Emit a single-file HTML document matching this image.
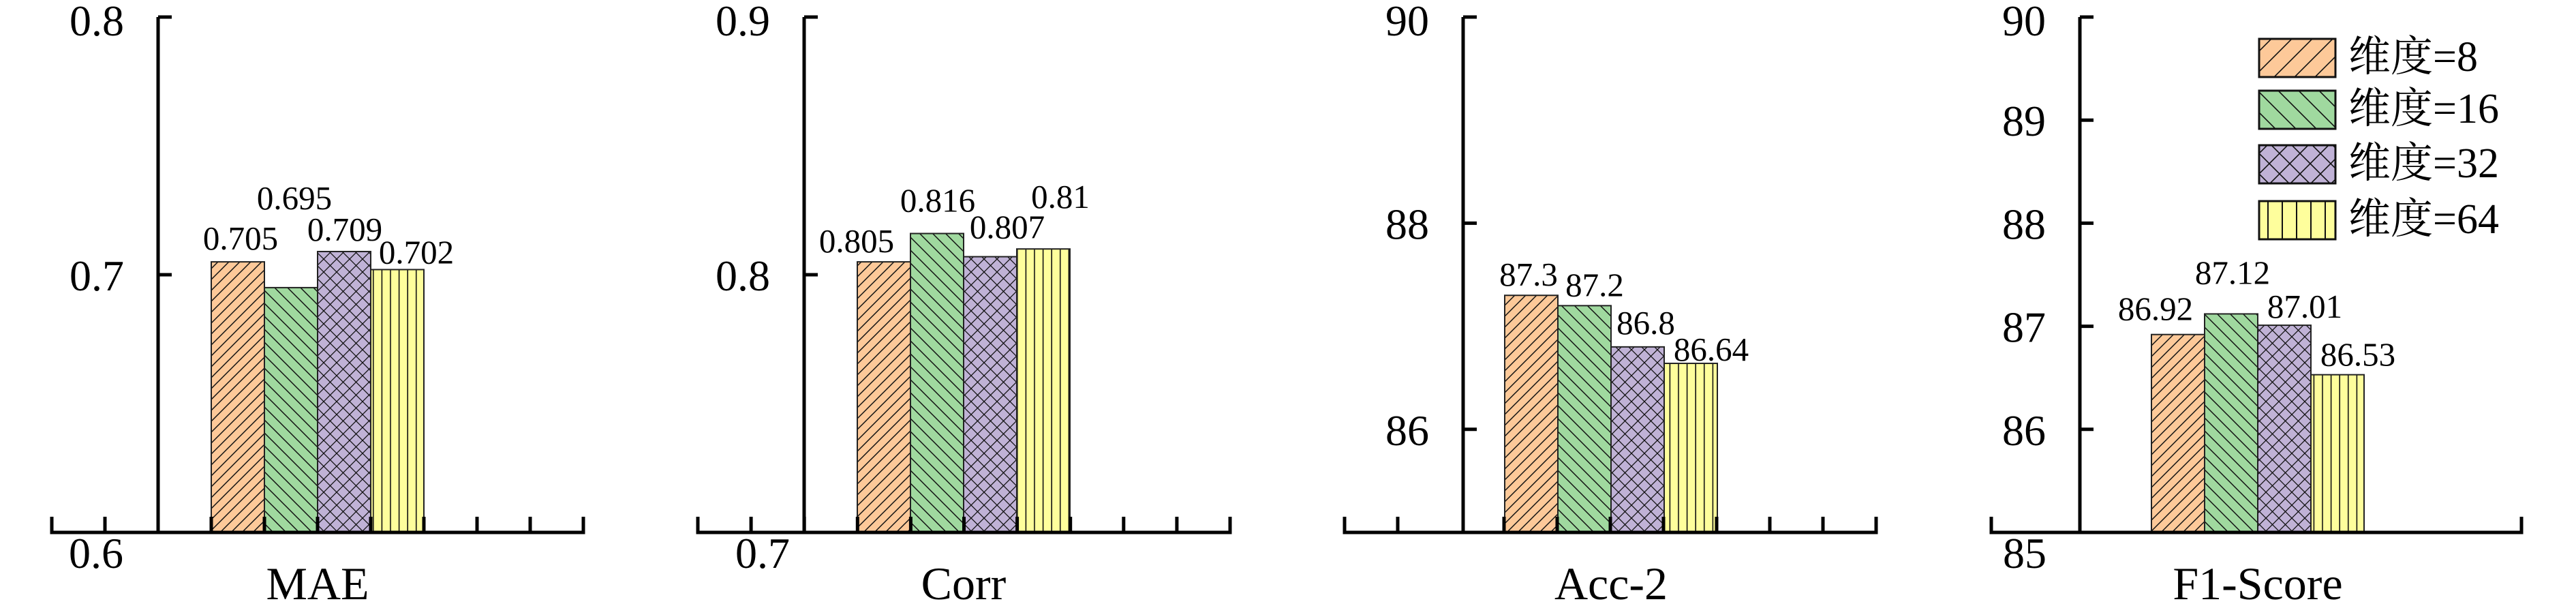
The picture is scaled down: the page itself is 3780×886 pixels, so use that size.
<!DOCTYPE html>
<html><head><meta charset="utf-8">
<style>
html,body{margin:0;padding:0;background:#fff;}
svg{display:block;}
text{font-family:"Liberation Serif","Noto Serif CJK SC",serif;fill:#000;}
</style></head>
<body>
<svg id="chart" width="3780" height="886" viewBox="0 0 3780 886" xmlns="http://www.w3.org/2000/svg">
<defs>
  <pattern id="p-s0" patternUnits="userSpaceOnUse" width="16" height="16"><rect width="16" height="16" fill="#fdc999"/><path d="M-4,4 L4,-4 M0,16 L16,0 M12,20 L20,12" stroke="#111" stroke-width="1.5"/></pattern>
  <pattern id="p-s1" patternUnits="userSpaceOnUse" width="19" height="19"><rect width="19" height="19" fill="#a0d99f"/><path d="M-5,14 L5,24 M0,0 L19,19 M14,-5 L24,5" stroke="#111" stroke-width="1.5"/></pattern>
  <pattern id="p-s2" patternUnits="userSpaceOnUse" width="19" height="19"><rect width="19" height="19" fill="#c0b2d6"/><path d="M0,0 L19,19 M19,0 L0,19" stroke="#111" stroke-width="1.3"/></pattern>
  <pattern id="p-s3" patternUnits="userSpaceOnUse" width="12.6" height="20"><rect width="12.6" height="20" fill="#fefe9c"/><path d="M6,0 L6,20" stroke="#111" stroke-width="1.6"/></pattern>
  <pattern id="l-s0" patternUnits="userSpaceOnUse" width="30" height="30"><rect width="30" height="30" fill="#fdc999"/><path d="M-8,8 L8,-8 M0,30 L30,0 M22,38 L38,22" stroke="#111" stroke-width="1.6"/></pattern>
  <pattern id="l-s1" patternUnits="userSpaceOnUse" width="30" height="30"><rect width="30" height="30" fill="#a0d99f"/><path d="M-8,22 L8,38 M0,0 L30,30 M22,-8 L38,8" stroke="#111" stroke-width="1.6"/></pattern>
  <pattern id="l-s2" patternUnits="userSpaceOnUse" width="30" height="30"><rect width="30" height="30" fill="#c0b2d6"/><path d="M0,0 L30,30 M30,0 L0,30" stroke="#111" stroke-width="1.6"/></pattern>
  <pattern id="l-s3" patternUnits="userSpaceOnUse" width="21" height="30"><rect width="21" height="30" fill="#fefe9c"/><path d="M10,0 L10,30" stroke="#111" stroke-width="2"/></pattern>
</defs>
</svg>
<script>
// ---- data ----
const metrics = ["MAE", "Corr", "Acc-2", "F1-Score"];
const seriesNames = ["维度=8", "维度=16", "维度=32", "维度=64"];
const maeValues = [0.705, 0.695, 0.709, 0.702];
const corrValues = [0.805, 0.816, 0.807, 0.81];
const acc2Values = [87.3, 87.2, 86.8, 86.64];
const f1Values = [86.92, 87.12, 87.01, 86.53];
const maeLabels = ["0.705", "0.695", "0.709", "0.702"];
const corrLabels = ["0.805", "0.816", "0.807", "0.81"];
const acc2Labels = ["87.3", "87.2", "86.8", "86.64"];
const f1Labels = ["86.92", "87.12", "87.01", "86.53"];
const maeTicks = [0.6, 0.7, 0.8];
const corrTicks = [0.7, 0.8, 0.9];
const acc2Ticks = [86, 88, 90];
const f1Ticks = [85, 86, 87, 88, 89, 90];
const maeTickLabels = ["0.6", "0.7", "0.8"];
const corrTickLabels = ["0.7", "0.8", "0.9"];
const acc2TickLabels = ["86", "88", "90"];
const f1TickLabels = ["85", "86", "87", "88", "89", "90"];

// ---- layout (styling, not data) ----
const NS = "http://www.w3.org/2000/svg";
const svg = document.getElementById("chart");
const TOP = 25, BASE = 781, STEP = 78;
const panels = [
  {vals: maeValues, labs: maeLabels, ticks: maeTicks, tlabs: maeTickLabels, min: 0.6, max: 0.8, x0: 76, x1: 856, ax: 232, bar0: 310, xt: "all",
   off: [[4,-18],[5,-115],[1,-16],[28,-9]], bottomLabelX: 181},
  {vals: corrValues, labs: corrLabels, ticks: corrTicks, tlabs: corrTickLabels, min: 0.7, max: 0.9, x0: 1024, x1: 1805, ax: 1180, bar0: 1258, xt: "all",
   off: [[-40,-14],[1,-32],[25,-27],[25,-60]], bottomLabelX: 1159},
  {vals: acc2Values, labs: acc2Labels, ticks: acc2Ticks, tlabs: acc2TickLabels, min: 85, max: 90, x0: 1973, x1: 2753, ax: 2147, bar0: 2208, xt: "skipaxis",
   off: [[-4,-14],[15,-14],[12,-19],[30,-4]], bottomLabelX: null},
  {vals: f1Values, labs: f1Labels, ticks: f1Ticks, tlabs: f1TickLabels, min: 85, max: 90, x0: 2922, x1: 3700, ax: 3052, bar0: 3157, xt: "ends",
   off: [[-33,-21],[2,-44],[30,-11],[30,-13]], bottomLabelX: 3003}
];

function el(tag, attrs, parent) {
  const e = document.createElementNS(NS, tag);
  for (const k in attrs) e.setAttribute(k, attrs[k]);
  (parent || svg).appendChild(e);
  return e;
}

panels.forEach((p, pi) => {
  const g = el("g", {});
  
  
  const y = v => BASE - (v - p.min) / (p.max - p.min) * (BASE - TOP);

  // bars
  p.vals.forEach((v, i) => {
    const bx = p.bar0 + i * STEP;
    const r = el("rect", {x: bx, y: y(v), width: STEP, height: BASE - y(v), fill: "url(#p-s" + i + ")", stroke: "#222", "stroke-width": 2}, g);
    
    
    const t = el("text", {x: bx + STEP / 2 + p.off[i][0], y: y(v) + p.off[i][1], "font-size": 49, "text-anchor": "middle"}, g);
    t.textContent = p.labs[i];
    
    
  });

  // x axis
  const xa = el("line", {x1: p.x0, x2: p.x1, y1: BASE, y2: BASE, stroke: "#000", "stroke-width": 5, "stroke-linecap": "square"}, g);
  
  
  const n = Math.round((p.x1 - p.x0) / STEP);
  for (let k = 0; k <= n; k++) {
    const tx = p.x0 + k * (p.x1 - p.x0) / n;
    if (p.xt === "ends" && k !== 0 && k !== n) continue;
    if (p.xt === "skipaxis" && k === 2) continue;
    const tk = el("line", {x1: tx, x2: tx, y1: BASE, y2: BASE - 23, stroke: "#000", "stroke-width": 5}, g);
    
    
  }

  // y axis
  const ya = el("line", {x1: p.ax, x2: p.ax, y1: TOP, y2: BASE, stroke: "#000", "stroke-width": 5}, g);
  
  
  p.ticks.forEach((tv, i) => {
    const ty = y(tv);
    if (Math.abs(ty - BASE) < 1) {
      if (p.bottomLabelX !== null) {
        const bl = el("text", {x: p.bottomLabelX, y: 833, "font-size": 64, "text-anchor": "end"}, g);
        bl.textContent = p.tlabs[i];
        
        
      }
      return;
    }
    const tk = el("path", {d: "M" + p.ax + "," + ty + " L" + (p.ax + 20) + "," + ty, stroke: "#000", "stroke-width": 5}, g);
    
    
    const tl = el("text", {x: p.ax - 50, y: ty + (i === p.ticks.length - 1 ? 27 : 23), "font-size": 64, "text-anchor": "end"}, g);
    tl.textContent = p.tlabs[i];
    
    
  });

  // axis title
  const at = el("text", {x: p.bar0 + 2 * STEP, y: 879, "font-size": 68, "text-anchor": "middle"}, g);
  at.textContent = metrics[pi];
  
  
});

// legend
const lg = el("g", {});


const legendTops = [57, 133, 213, 295];
seriesNames.forEach((name, i) => {
  const ly = legendTops[i];
  const sw = el("rect", {x: 3315, y: ly, width: 112, height: 56, fill: "url(#l-s" + i + ")", stroke: "#111", "stroke-width": 3}, lg);
  
  
  const lt = el("text", {x: 3446, y: ly + 47, "font-size": 62}, lg);
  lt.setAttribute('style', 'font-family:"Liberation Serif","Noto Serif CJK SC","Noto Sans CJK SC",serif;');
  lt.textContent = name;
  
  
});
</script>
</body></html>
